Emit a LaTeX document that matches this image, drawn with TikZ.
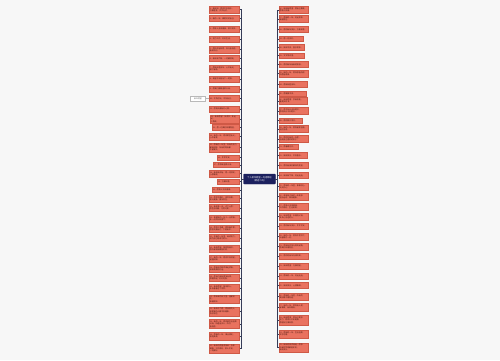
\documentclass[tikz,border=0pt]{standalone}
\usepackage{fontspec}
\newfontfamily\cjk{Noto Sans CJK SC}
\XeTeXlinebreaklocale "zh"
\definecolor{bgcol}{HTML}{F7F7F7}
\definecolor{boxfill}{HTML}{E9725F}
\definecolor{boxline}{HTML}{CF5946}
\definecolor{boxtext}{HTML}{4A1810}
\definecolor{linecol}{HTML}{353C58}
\definecolor{cfill}{HTML}{1C215F}
\begin{document}
\begin{tikzpicture}[x=1pt,y=-1pt,
  lbox/.style={draw=boxline,fill=boxfill,line width=0.3pt,inner xsep=1pt,inner ysep=0.6pt,
    font=\cjk\fontsize{1.9}{2.4}\selectfont,text=boxtext,align=left,anchor=east},
  rbox/.style={lbox,anchor=west},
  conn/.style={draw=linecol,line width=0.75pt},
  cnode/.style={fill=cfill,draw=cfill,rounded corners=0.8pt,text=white,align=center,
    font=\cjk\fontsize{2.2}{2.9}\selectfont,minimum width=32,minimum height=10,inner sep=0.8pt},
  kbox/.style={draw=gray!55,fill=white,line width=0.3pt,text=gray!80!black,
    font=\cjk\fontsize{1.9}{2.4}\selectfont,minimum width=15,minimum height=5,inner sep=0.6pt}]
\fill[bgcol] (0,0) rectangle (500,360);
\useasboundingbox (0,0) rectangle (500,360);
\node[cnode] (c) at (259.5,179) {个人新年愿望一句话简短\\（精选70句）};
\foreach \y/\h/\x/\t [count=\i] in {
 9.5/7/209/{1、新年到，愿你平安喜乐，\\万事胜意，岁岁无忧。},
 18.5/6/209/{2、新的一年，做更好的自己。},
 29/6/209/{3、愿家人身体健康，笑口常开。},
 39/6/209/{4、努力工作，好好生活。},
 49.5/7/209/{5、愿所求皆如愿，所行皆坦途，\\新年快乐。},
 58.5/6/209/{6、新年新气象，一切都顺利。},
 68.5/7/209/{7、愿新年胜旧年，心中有光，\\脚下有路。},
 79/6/209/{8、希望今年能存下一笔钱。},
 89/6/209/{9、愿我们都被温柔以待。},
 98.5/6/209/{10、不负时光，不负自己。},
 109/6/209/{11、愿每天都有好心情。},
 119/8/210/{12、新年愿望：多读书，多运动，\\少熬夜。},
 127.5/6/212/{13、愿一切美好如期而至。},
 136.5/7/209/{14、新的一年，愿你眼里有光，\\心中有爱。},
 147.5/9/209/{15、愿新的一年里，所有的努力\\都有回报，所有的等待都\\不被辜负。},
 157.5/5/217/{16、岁岁平安。},
 165/5/213/{17、愿你被温柔以待。},
 173.5/7/209/{18、新年新开始，愿一切顺利，\\心想事成。},
 181.5/5/217/{19、万事如意。},
 190/5/212/{20、愿家人平安健康。},
 198.5/7/209/{21、愿岁月静好，现世安稳，\\家人健康，朋友常在。},
 208/7/209/{22、新年第一天，许下心愿：\\愿生活明朗，万物可爱。},
 218.5/7/209/{23、希望新的一年少一点烦恼，\\多一点快乐和勇气。},
 228.5/7/209/{24、愿你三冬暖，愿你春不寒，\\愿你天黑有灯，下雨有伞。},
 238/7/209/{25、在新的一年里，继续努力，\\成为自己想成为的人。},
 248.5/7/209/{26、新年愿望，简短而美好，\\愿所有期待都能实现。},
 258.5/7/209/{27、新的一年，愿你平安顺遂，\\前程似锦。},
 268.5/7/209/{28、愿新年的钟声带走烦恼，\\带来满满的好运。},
 278/7/209/{29、愿自己新年更加自律，\\早睡早起，好好吃饭。},
 288/7/209/{30、新年愿望：陪伴家人，\\多去看看这个世界。},
 299/8/209/{31、愿未来的日子里，温暖常在，\\幸福常伴。},
 311.5/9/209/{32、新年许个愿，愿我爱的人\\和爱我的人都平安健康，\\快乐常在。},
 324/9/209/{33、新的一年，愿你被生活温柔\\以待，所遇皆良人，所行\\皆坦途。},
 336/8/209/{34、愿新的一年，事业顺利，\\家庭美满。},
 348.5/9/209/{35、新年的愿望很简单：身体\\健康，工作顺利，家人平安，\\一切都好。}}
{
  \pgfmathsetmacro\bw{239.5-\x-2}
  \node[lbox,minimum height=\h,text width=\bw pt] (L\i) at (239.5,\y) {\t};
  \draw[conn] (c.west) -- ++(-1.8,0) |- (L\i.east);
}
\foreach \y/\h/\x/\t [count=\i] in {
 10/7/308/{36、新年新愿望：愿自己勇敢，\\愿家人安康。},
 19/7/308/{37、愿新的一年，好运常伴，\\幸福常在。},
 29.5/6/308/{38、愿你新年快乐，万事如意。},
 39/5/303/{39、愿一切安好。},
 47.5/6/304/{40、新年平安，喜乐常伴。},
 55.5/5/304/{41、岁岁常欢愉。},
 64.5/6/308/{42、愿你新年有新的收获。},
 73.5/7/308/{43、新的一年，愿所想皆所得，\\所愿皆成真。},
 84.5/6/307/{44、愿新年胜旧年。},
 94/5/306/{45、愿健康平安。},
 101/7/307/{46、新年愿望：学新技能，\\看更多的书。},
 111/7/308/{47、愿今年比去年更好，\\愿明天比今天更好。},
 120.5/5/302/{48、愿你笑口常开。},
 129/7/308/{49、新的一年，愿你被爱包围，\\无忧无虑。},
 139/7/308/{50、愿你在新的一年里，\\活成自己喜欢的样子。},
 147/5/298/{51、愿春暖花开。},
 155.5/6/307/{52、新年快乐，平安喜乐。},
 165.5/6/308/{53、愿所有美好都如约而至。},
 175.5/6/308/{54、新年新气象，好运连连。},
 186.5/7/308/{55、愿新的一年里，事事顺心，\\天天开心。},
 196.5/7/308/{56、希望自己新的一年能够\\坚持运动，保持健康。},
 206.5/7/308/{57、愿家人身体健康，\\工作顺利，生活美满。},
 216.5/7/308/{58、新年愿望：多陪陪父母，\\多关心身边的人。},
 226/6/308/{59、愿你新年快乐，岁岁平安。},
 236.5/7/308/{60、新的一年，愿你不慌不忙，\\从容面对一切。},
 246.5/7/308/{61、愿新年的阳光照亮前路，\\愿美好如期而至。},
 256/6/308/{62、愿你的新年充满欢笑。},
 266/6/308/{63、新年愿望：万事顺遂。},
 276/6/308/{64、愿新的一年，好运连连。},
 285.5/6/308/{65、新年快乐，心想事成。},
 296.5/7/308/{66、愿新的一年里，所有的\\美好都不期而遇。},
 307/8/308/{67、新的一年，愿你有人爱，\\有事做，有所期待。},
 320/10/308/{68、新年愿望：愿自己更加\\努力，愿家人平安健康，\\愿朋友万事如意。},
 334/8/308/{69、愿新的一年，生活温柔，\\岁月可期。},
 347.5/9/308/{70、新年的钟声响起，愿你\\所有的梦想都能实现，\\新年快乐。}}
{
  \pgfmathsetmacro\bw{\x-278.5-2}
  \node[rbox,minimum height=\h,text width=\bw pt] (R\i) at (278.5,\y) {\t};
  \draw[conn] (c.east) -- ++(1.5,0) |- (R\i.west);
}
\node[kbox] (K) at (198,98.5) {新年愿望};
\draw[draw=gray!60,line width=0.4pt] (L10.west) -- (K.east);
\end{tikzpicture}
\end{document}
